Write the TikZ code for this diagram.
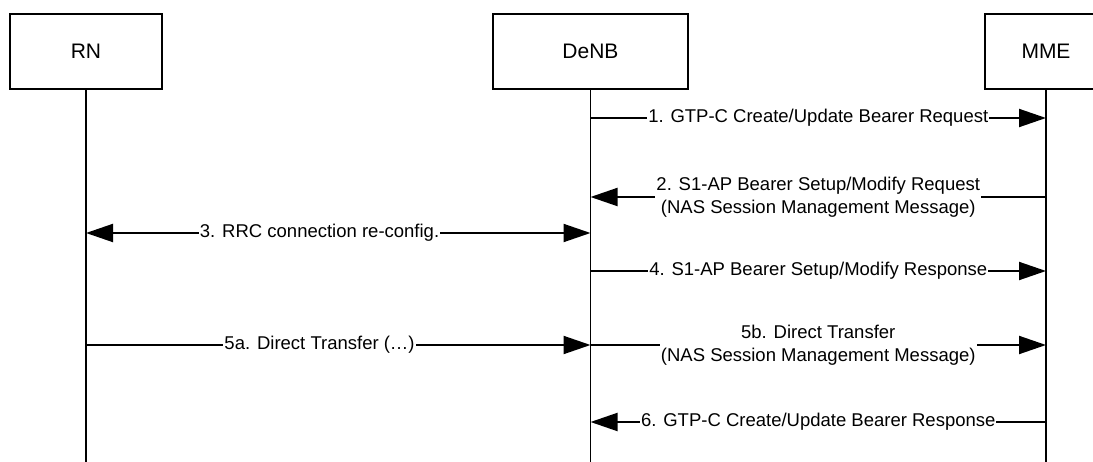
\documentclass[tikz,border=0pt]{standalone}
\usepackage{fontspec}
\setmainfont{Liberation Sans}
\usetikzlibrary{arrows.meta}
\begin{document}
\begin{tikzpicture}[x=1pt,y=-1pt,
  entity/.style={draw, line width=1.8pt, minimum width=#1, minimum height=75pt, inner sep=0pt, font=\fontsize{21}{25}\selectfont},
  life/.style={line width=1.8pt},
  msg/.style={line width=2pt, -{Triangle[length=27pt,width=18pt]}},
  bimsg/.style={line width=2pt, {Triangle[length=27pt,width=18pt]}-{Triangle[length=27pt,width=18pt]}},
  lbl/.style={fill=white, inner xsep=1pt, inner ysep=0pt, font=\fontsize{18.5}{22.5}\selectfont, align=center}]
\useasboundingbox (0,0) rectangle (1093,462);
\clip (0,0) rectangle (1093,462);
% entities
\node[entity=152pt] (rn) at (86,51.5) {RN};
\node[entity=195pt] (denb) at (590.5,51.5) {DeNB};
\node[entity=122pt] (mme) at (1046,51.5) {MME};
% lifeline ends
\coordinate (rnE) at (86,470);
\coordinate (denbE) at (590.5,470);
\coordinate (mmeE) at (1046,470);
\draw[life] (rn.south) -- (rnE);
\draw[life] (denb.south) -- (denbE);
\draw[life] (mme.south) -- (mmeE);
% message end points
\coordinate (d1) at (590.5,118); \coordinate (m1) at (1046,118);
\coordinate (d2) at (590.5,197); \coordinate (m2) at (1046,197);
\coordinate (r3) at (86,233);    \coordinate (d3) at (590.5,233);
\coordinate (d4) at (590.5,271); \coordinate (m4) at (1046,271);
\coordinate (r5) at (86,345);    \coordinate (d5) at (590.5,345);
\coordinate (m5) at (1046,345);
\coordinate (d6) at (590.5,422); \coordinate (m6) at (1046,422);
% messages
\draw[msg] (d1) -- (m1) node[lbl, midway] (l1) {1. GTP-C Create/Update Bearer Request};
\draw[msg] (m2) -- (d2) node[lbl, midway] (l2) {2. S1-AP Bearer Setup/Modify Request\\(NAS Session Management Message)};
\draw[bimsg] (r3) -- (d3) node[lbl, pos=0.463] (l3) {3. RRC connection re-config.};
\draw[msg] (d4) -- (m4) node[lbl, midway] (l4) {4. S1-AP Bearer Setup/Modify Response};
\draw[msg] (r5) -- (d5) node[lbl, pos=0.463] (l5a) {5a. Direct Transfer (…)};
\draw[msg] (d5) -- (m5) node[lbl, midway] (l5b) {5b. Direct Transfer\\(NAS Session Management Message)};
\draw[msg] (m6) -- (d6) node[lbl, midway] (l6) {6. GTP-C Create/Update Bearer Response};
\end{tikzpicture}
\end{document}
